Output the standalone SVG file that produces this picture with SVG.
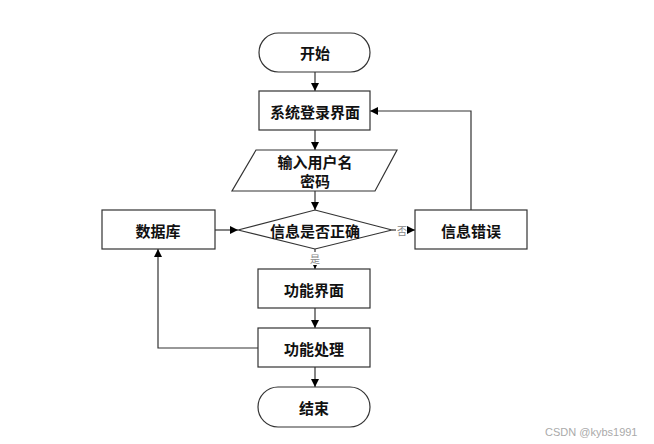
<svg xmlns="http://www.w3.org/2000/svg" width="654" height="444" viewBox="0 0 654 444">
<defs>
<marker id="arr" viewBox="0 0 10 10" refX="10" refY="5" markerWidth="8" markerHeight="8" markerUnits="userSpaceOnUse" orient="auto">
<path d="M0,0 L10,5 L0,10 z" fill="#000"/>
</marker>
</defs>
<style>
.n{fill:#fff;stroke:#333;stroke-width:1.2}
.t{font-family:"Noto Sans CJK SC","Liberation Serif",serif;font-size:15px;font-weight:bold;fill:#111;text-anchor:middle;dominant-baseline:central}
.c{fill:none;stroke:#333;stroke-width:1.2}
.l{font-family:"Noto Sans CJK SC","Liberation Sans",sans-serif;font-size:10px;fill:#888;text-anchor:middle;dominant-baseline:central}
</style>
<rect width="654" height="444" fill="#fff"/>
<g id="connectors">
<line class="c" x1="315" y1="72" x2="315" y2="91" marker-end="url(#arr)"/>
<line class="c" x1="315" y1="130" x2="315" y2="150" marker-end="url(#arr)"/>
<line class="c" x1="315" y1="191" x2="315" y2="210" marker-end="url(#arr)"/>
<line class="c" x1="215" y1="230" x2="238" y2="230" marker-end="url(#arr)"/>
<line class="c" x1="392" y1="230" x2="415" y2="230" marker-end="url(#arr)"/>
<polyline class="c" points="471,210 471,111 370,111" marker-end="url(#arr)"/>
<line class="c" x1="315" y1="249" x2="315" y2="269" marker-end="url(#arr)"/>
<line class="c" x1="315" y1="308" x2="315" y2="328" marker-end="url(#arr)"/>
<polyline class="c" points="258,348 158,348 158,249" marker-end="url(#arr)"/>
<line class="c" x1="315" y1="367" x2="315" y2="387" marker-end="url(#arr)"/>
<rect x="396" y="223" width="11" height="14" fill="#fff"/>
<text class="l" x="402" y="230">否</text>
<rect x="309" y="252" width="12" height="13" fill="#fff"/>
<text class="l" x="315" y="258">是</text>
</g>
<g id="start">
<rect class="n" x="259" y="33" width="111" height="39" rx="19.5" ry="19.5"/>
<text class="t" x="315" y="52">开始</text>
</g>
<g id="login">
<rect class="n" x="259" y="91" width="111" height="39"/>
<text class="t" x="315" y="111">系统登录界面</text>
</g>
<g id="input">
<polygon class="n" points="256,150 397,150 375,191 232,191"/>
<text class="t" x="315" y="161">输入用户名</text>
<text class="t" x="315" y="180">密码</text>
</g>
<g id="check">
<polygon class="n" points="315,210 392,230 315,249 238,230"/>
<text class="t" x="315" y="230">信息是否正确</text>
</g>
<g id="db">
<rect class="n" x="102" y="210" width="113" height="39"/>
<text class="t" x="158" y="230">数据库</text>
</g>
<g id="error">
<rect class="n" x="415" y="210" width="112" height="39"/>
<text class="t" x="471" y="230">信息错误</text>
</g>
<g id="func">
<rect class="n" x="258" y="269" width="112" height="39"/>
<text class="t" x="314" y="289">功能界面</text>
</g>
<g id="process">
<rect class="n" x="258" y="328" width="112" height="39"/>
<text class="t" x="314" y="348">功能处理</text>
</g>
<g id="end">
<rect class="n" x="258" y="387" width="112" height="40" rx="20" ry="20"/>
<text class="t" x="314" y="407">结束</text>
</g>
<text x="545" y="436" font-family="Liberation Sans, sans-serif" font-size="11" fill="#aaa">CSDN @kybs1991</text>
</svg>
